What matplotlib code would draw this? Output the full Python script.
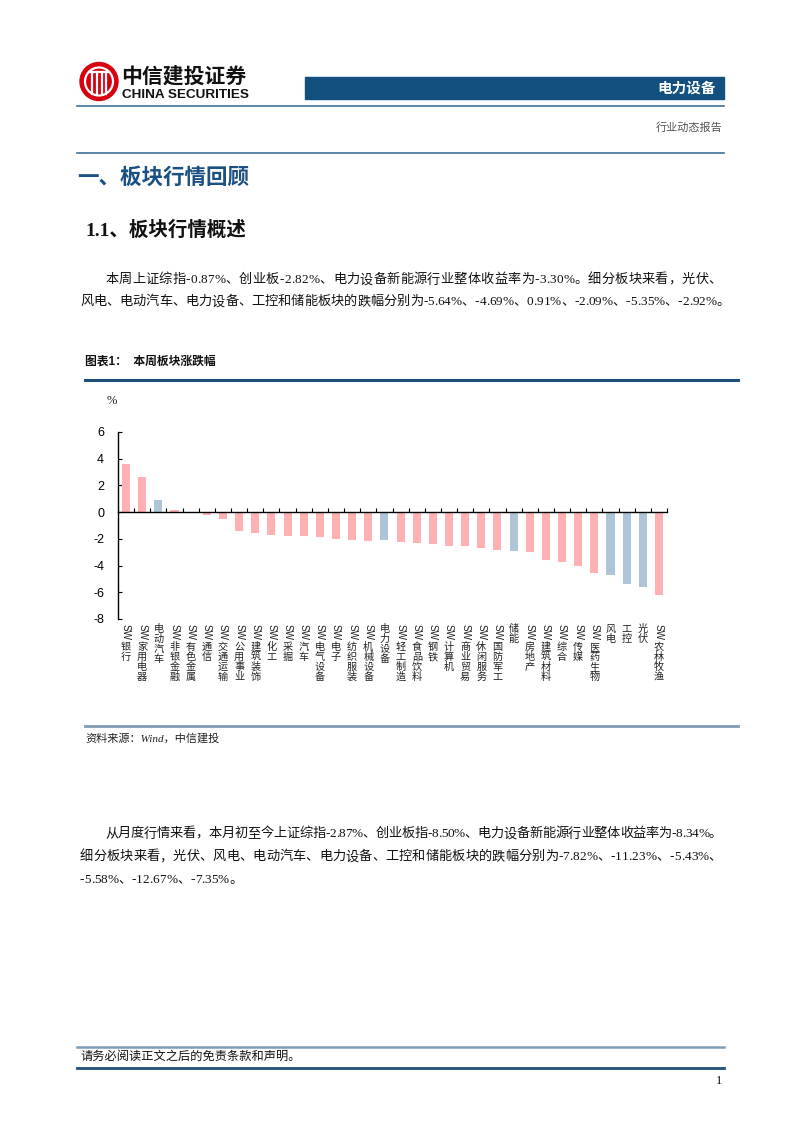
import matplotlib as mpl
mpl.use('Agg')
import matplotlib.pyplot as plt
from matplotlib import font_manager
from matplotlib.ft2font import FT2Font
from matplotlib.patches import Circle, Rectangle
from matplotlib.transforms import blended_transform_factory

SERIF = ['Liberation Serif', 'Noto Sans CJK SC']
SANS = ['Liberation Sans', 'Noto Sans CJK SC']

# weekly change by sector, %
categories = ['SW银行', 'SW家用电器', '电动汽车', 'SW非银金融', 'SW有色金属', 'SW通信',
              'SW交通运输', 'SW公用事业', 'SW建筑装饰', 'SW化工', 'SW采掘', 'SW汽车',
              'SW电气设备', 'SW电子', 'SW纺织服装', 'SW机械设备', '电力设备', 'SW轻工制造',
              'SW食品饮料', 'SW钢铁', 'SW计算机', 'SW商业贸易', 'SW休闲服务', 'SW国防军工',
              '储能', 'SW房地产', 'SW建筑材料', 'SW综合', 'SW传媒', 'SW医药生物',
              '风电', '工控', '光伏', 'SW农林牧渔']
values = [3.62, 2.62, 0.91, 0.15, -0.05, -0.20, -0.50, -1.43, -1.58, -1.68, -1.75,
          -1.77, -1.88, -2.03, -2.05, -2.13, -2.09, -2.27, -2.32, -2.42, -2.50, -2.52,
          -2.72, -2.82, -2.92, -3.02, -3.57, -3.77, -4.04, -4.52, -4.69, -5.35, -5.64,
          -6.19]
y_ticks = [-8, -6, -4, -2, 0, 2, 4, 6]

para1 = ['本周上证综指-0.87%、创业板-2.82%、电力设备新能源行业整体收益率为-3.30%。细分板块来看，光伏、',
         '风电、电动汽车、电力设备、工控和储能板块的跌幅分别为-5.64%、-4.69%、0.91%、-2.09%、-5.35%、-2.92%。']
para2 = ['从月度行情来看，本月初至今上证综指-2.87%、创业板指-8.50%、电力设备新能源行业整体收益率为-8.34%。',
         '细分板块来看，光伏、风电、电动汽车、电力设备、工控和储能板块的跌幅分别为-7.82%、-11.23%、-5.43%、',
         '-5.58%、-12.67%、-7.35%。']

PINK = '#ffb0b3'
BLUE = '#aec5d8'
NAVY = '#1f4e79'
STEEL = '#7f9cb5'

fig = plt.figure(figsize=(8.02, 11.33), dpi=100)
page = fig.add_axes([0, 0, 1, 1])
page.set_xlim(0, 802)
page.set_ylim(1133, 0)
page.axis('off')

_latin = FT2Font(font_manager.findfont(font_manager.FontProperties(family='Liberation Serif')))


def advance(ch, size):
    if ord(ch) >= 0x2000:
        return size / 72 * 100
    _latin.set_size(size, 100)
    g = _latin.load_char(ord(ch))
    return g.linearHoriAdvance / 65536


def text_line(x0, y, s, size, x1=None, **kw):
    # one text per character so the line can be justified like the PDF
    widths = [advance(ch, size) for ch in s]
    gap = 0
    if x1 is not None and len(s) > 1:
        gap = (x1 - x0 - sum(widths)) / (len(s) - 1)
    x = x0
    for ch, w in zip(s, widths):
        page.text(x, y, ch, fontsize=size, family=SERIF, va='center', ha='left',
                  color='#111111', **kw)
        x += w + gap


# header
page.add_patch(Circle((99, 81.5), 19, color='#d7000f'))
page.add_patch(Circle((99, 81.5), 14, fill=False, ec='white', lw=1.6))
for xv in [92, 96.5, 101.5, 106]:
    page.plot([xv, xv], [72, 94], color='white', lw=1.6)
page.plot([89, 109], [72, 72], color='white', lw=1.6)
page.text(121, 76, '中信建投证券', fontsize=15, weight='bold', family=SANS,
          va='center', ha='left', color='#111111')
page.text(122, 94.5, 'CHINA SECURITIES', fontsize=9.7, weight='bold', family=SANS,
          va='center', ha='left', color='#111111')
page.add_patch(Rectangle((305, 77), 419, 22, color='#11507f'))
page.text(716, 88.5, '电力设备', fontsize=10.5, weight='bold', family=SANS,
          va='center', ha='right', color='white')
page.plot([77, 724], [106, 106], color='#3f6f96', lw=1.2)
page.text(722, 127, '行业动态报告', fontsize=8, family=SERIF, va='center', ha='right',
          color='#555555')
page.plot([77, 724], [153, 153], color='#3f6f96', lw=1.2)

# headings
page.text(77, 178, '一、板块行情回顾', fontsize=15.5, weight='bold', family=SANS,
          va='center', ha='left', color='#1b5083')
page.text(85, 230, '1.1、板块行情概述', fontsize=14, weight='bold', family=SERIF,
          va='center', ha='left', color='#111111')

# paragraph 1
text_line(105, 280, para1[0], 9.5, x1=722)
text_line(80, 302, para1[1], 9.5)

# chart title
page.text(85, 362, '图表1：  本周板块涨跌幅', fontsize=8.5, weight='bold', family=SANS,
          va='center', ha='left', color='#111111')
page.plot([85, 738], [380, 380], color=NAVY, lw=2.2)
page.text(112, 401, '%', fontsize=9, family=SERIF, va='center', ha='center',
          color='#222222')

# chart
ax = fig.add_axes([118 / 802, 1 - 619 / 1133, 549 / 802, 187 / 1133])
ax.set_facecolor('none')
xs = list(range(len(categories)))
colors = [PINK if c.startswith('SW') else BLUE for c in categories]
ax.bar(xs, values, width=0.5, color=colors, zorder=2)
ax.set_xlim(-0.5, len(categories) - 0.5)
ax.set_ylim(-8, 6)
for sp in ['top', 'right']:
    ax.spines[sp].set_visible(False)
ax.spines['bottom'].set_position(('data', 0))
ax.spines['bottom'].set_zorder(3)
ax.spines['bottom'].set_linewidth(1.0)
ax.spines['left'].set_linewidth(1.0)
ax.set_xticks([i - 0.5 for i in range(len(categories) + 1)])
ax.tick_params(axis='x', direction='in', length=3, width=0.8, labelbottom=False)
ax.set_yticks(y_ticks)
ax.set_yticklabels([str(v) for v in y_ticks])
ax.tick_params(axis='y', direction='in', length=3, width=0.8, pad=10, labelsize=9)
for lab in ax.get_yticklabels():
    lab.set_family('Liberation Sans')

# vertical category labels
tr = blended_transform_factory(ax.transData, page.transData)
for i, c in enumerate(categories):
    if c.startswith('SW'):
        page.text(i, 623.5, 'SW', rotation=-90, ha='center', va='top', transform=tr,
                  fontsize=7.2, family=SANS, color='#222222')
        rest, y = c[2:], 647
    else:
        rest, y = c, 629
    for ch in rest:
        page.text(i, y, ch, ha='center', va='center', transform=tr, fontsize=7.3,
                  family=SANS, color='#222222')
        y += 10

page.plot([85, 738], [726, 726], color=STEEL, lw=2)
page.text(85, 738, '资料来源：Wind，中信建投', fontsize=8, style='italic', family=SERIF,
          va='center', ha='left', color='#222222')

# paragraph 2
text_line(105, 834, para2[0], 9.5, x1=722)
text_line(80, 857, para2[1], 9.5, x1=722)
text_line(80, 880, para2[2], 9.5)

# footer
page.plot([77, 724], [1047, 1047], color=STEEL, lw=1.8)
page.text(80, 1057, '请务必阅读正文之后的免责条款和声明。', fontsize=8.8, family=SERIF,
          va='center', ha='left', color='#111111')
page.plot([77, 724], [1068, 1068], color=NAVY, lw=2)
page.text(722, 1081, '1', fontsize=9, family=SERIF, va='center', ha='right',
          color='#111111')

fig.savefig('out.png', dpi=100)
